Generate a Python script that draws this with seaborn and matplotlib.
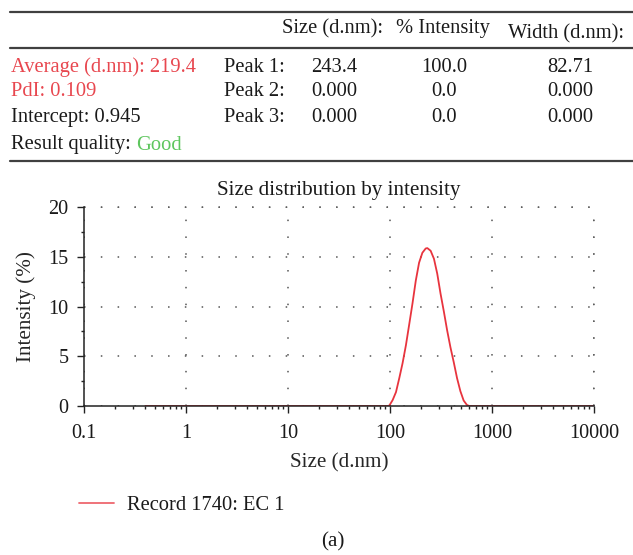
import matplotlib
matplotlib.use("Agg")
import matplotlib.pyplot as plt
from matplotlib.lines import Line2D
from matplotlib.ticker import FixedLocator, NullFormatter
import seaborn as sns
import pandas as pd

# Size (d.nm) and intensity (%) of the measured distribution
sizes = [0.4, 95.0, 98.6, 106.2, 114.5, 123.3, 132.8, 143.2, 154.3, 166.1,
         179.0, 192.8, 207.7, 223.8, 232.3, 250.3, 269.7, 290.5, 312.9, 337.2,
         363.3, 391.4, 421.7, 454.3, 489.5, 527.3, 568.1, 598.6, 10000]
intensity = [0.0, 0.0, 0.05, 0.6, 1.4, 2.8, 4.3, 6.1, 8.2, 10.3,
             12.6, 14.4, 15.4, 15.83, 15.87, 15.6, 14.8, 13.3, 11.3, 9.5,
             7.6, 5.9, 4.4, 2.8, 1.5, 0.55, 0.1, 0.0, 0.0]

x_ticks = [0.1, 1, 10, 100, 1000, 10000]
x_tick_labels = ["0.1", "1", "10", "100", "1000", "10000"]
y_ticks = [0, 5, 10, 15, 20]

record_label = "Record 1740: EC 1"

# Summary table
header = ["Size (d.nm):", "% Intensity", "Width (d.nm):"]
left_col = ["Average (d.nm): 219.4", "PdI: 0.109", "Intercept: 0.945"]
peak_names = ["Peak 1:", "Peak 2:", "Peak 3:"]
peak_size = ["243.4", "0.000", "0.000"]
peak_int = ["100.0", "0.0", "0.0"]
peak_width = ["82.71", "0.000", "0.000"]
quality = "Good"

RED = "#e8343e"
TXT_RED = "#e8474f"
GREEN = "#5ec65e"
TXT = "#1a1a1a"
GRID = "#555555"
DOTS = (0, (1, 10))

sns.set_theme(style="white")
plt.rcParams["font.family"] = ["Liberation Serif", "DejaVu Serif"]
plt.rcParams["text.color"] = TXT

W, H = 633, 555
fig = plt.figure(figsize=(W / 100, H / 100), dpi=100)


def fx(px):
    return px / W


def fy(py):
    return 1 - py / H


FS = 14.8
LFS = 15.2

# table rules
for yy in (12, 48, 161):
    fig.add_artist(Line2D([fx(10), 1.0], [fy(yy), fy(yy)], color="#404040", lw=1.6))

fig.text(fx(282), fy(28.5), header[0], fontsize=FS, va="center", ha="left")
fig.text(fx(396), fy(28.5), header[1], fontsize=FS, va="center", ha="left")
fig.text(fx(508), fy(33.5), header[2], fontsize=FS, va="center", ha="left")

row_y = [67, 92, 117]
for i, yy in enumerate(row_y):
    col = TXT_RED if i < 2 else TXT
    fig.text(fx(11), fy(yy), left_col[i], fontsize=FS, va="center", ha="left", color=col)
    fig.text(fx(224), fy(yy), peak_names[i], fontsize=FS, va="center", ha="left")
    fig.text(fx(311), fy(yy), peak_size[i], fontsize=FS, va="center", ha="left")
    fig.text(fx(444), fy(yy), peak_int[i], fontsize=FS, va="center", ha="center")
    fig.text(fx(570), fy(yy), peak_width[i], fontsize=FS, va="center", ha="center")

t = fig.text(fx(11), fy(145), "Result quality: ", fontsize=FS, va="center", ha="left")
fig.canvas.draw()
bb = t.get_window_extent()
fig.text(bb.x1 / W, fy(145), quality, fontsize=FS, va="center", ha="left", color=GREEN)

# distribution plot
ax = fig.add_axes([fx(84), fy(406), fx(594) - fx(84), fy(207) - fy(406)])
df = pd.DataFrame({"size": sizes, "intensity": intensity})
sns.lineplot(data=df, x="size", y="intensity", ax=ax, color=RED, lw=1.3,
             label=record_label, legend=False, sort=False)
ax.set_xscale("log")
ax.set_xlim(0.1, 10000)
ax.set_ylim(0, 20)
ax.xaxis.set_major_locator(FixedLocator(x_ticks))
ax.set_xticklabels(x_tick_labels)
ax.xaxis.set_minor_locator(FixedLocator(
    [m * d for d in [0.1, 1, 10, 100, 1000] for m in range(2, 10)]))
ax.xaxis.set_minor_formatter(NullFormatter())
ax.set_yticks(y_ticks)
ax.yaxis.set_minor_locator(FixedLocator([2.5, 7.5, 12.5, 17.5]))

for s in ["top", "right"]:
    ax.spines[s].set_visible(False)
for s in ["left", "bottom"]:
    ax.spines[s].set_color("#222222")
    ax.spines[s].set_linewidth(1.1)

ax.tick_params(axis="both", which="major", direction="out", length=5, width=1,
               color="#222222", labelsize=14.6, labelcolor=TXT)
ax.tick_params(axis="x", which="major", pad=8)
ax.tick_params(axis="y", which="major", pad=6)
ax.tick_params(axis="both", which="minor", direction="out", length=2.5, width=1,
               color="#222222")
ax.tick_params(axis="x", which="both", bottom=True)
ax.tick_params(axis="y", which="both", left=True)

ax.grid(True, which="major", color=GRID, lw=1.1, linestyle=DOTS)
# gridlines along the top and right edges
ax.axhline(20, color=GRID, lw=1.1, linestyle=DOTS, clip_on=False)
ax.axvline(10000, color=GRID, lw=1.1, linestyle=DOTS, clip_on=False)

ax.set_xlabel("Size (d.nm)", fontsize=LFS, labelpad=7)
ax.set_ylabel("Intensity (%)", fontsize=LFS, labelpad=9)
ax.set_title("Size distribution by intensity", fontsize=LFS, pad=9)

handle = Line2D([], [], color=RED, lw=1.3, alpha=0.75)
fig.legend([handle], [record_label], loc="center left",
           bbox_to_anchor=(fx(79), fy(505)), frameon=False, fontsize=14.8,
           borderpad=0, borderaxespad=0, handlelength=1.7, handletextpad=0.65)

fig.text(fx(333), fy(542), "(a)", fontsize=LFS, ha="center", va="center")

fig.savefig("out.png", dpi=100)
